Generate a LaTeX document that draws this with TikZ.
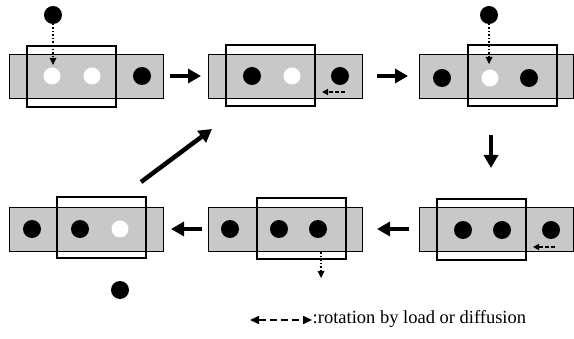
\documentclass[tikz,border=0pt]{standalone}
\usepackage{fontspec}
\setmainfont{Liberation Serif}
\usetikzlibrary{arrows.meta}
\definecolor{stip}{RGB}{200,200,200}
\begin{document}
\begin{tikzpicture}[x=1pt,y=-1pt,
  band/.style={draw=black, line width=0.9pt, fill=stip, minimum width=154pt, minimum height=44pt, inner sep=0pt},
  frame/.style={draw=black, line width=2pt, minimum width=89pt, minimum height=61pt, inner sep=0pt},
  bdot/.style={circle, fill=black, minimum size=18pt, inner sep=0pt},
  wdot/.style={circle, fill=white, minimum size=17pt, inner sep=0pt},
  bigarrow/.style={line width=4.5pt, -{Triangle[length=13pt, width=14pt]}},
  dotarrow/.style={line width=1.6pt, dotted, -{Triangle[length=7pt, width=7pt, line width=0pt]}},
  dasharrow/.style={line width=1.2pt, dash pattern=on 4pt off 2pt, -{Triangle[length=6pt, width=6pt]}},
]
\useasboundingbox (0,0) rectangle (574,339);
% Panel 1
\node[band] (b1) at (86,76) {};
\node[frame] (f1) at (71.5,76.5) {};
\node[wdot] (c11) at (52,76) {};
\node[wdot] (c12) at (92,76) {};
\node[bdot] (c13) at (142,76) {};
\node[bdot] (t1) at (53,15) {};
\coordinate (t1e) at (53,65);
\draw[dotarrow] (t1.south) ++(0,8pt) -- (t1e);
% Panel 2
\node[band] (b2) at (285,76) {};
\node[frame] (f2) at (270,76) {};
\node[bdot] (c21) at (252,76) {};
\node[wdot] (c22) at (292,76) {};
\node[bdot] (c23) at (340,76) {};
\coordinate (d2s) at (345,92);
\coordinate (d2e) at (322,92);
\draw[dasharrow] (d2s) -- (d2e);
% Panel 3
\node[band] (b3) at (496,76) {};
\node[frame] (f3) at (512,75.5) {};
\node[bdot] (c31) at (442,78) {};
\node[wdot] (c32) at (490,78) {};
\node[bdot] (c33) at (529,78) {};
\node[bdot] (t3) at (489,15) {};
\coordinate (t3e) at (489,64);
\draw[dotarrow] (t3.south) ++(0,8pt) -- (t3e);
% Panel 4
\node[band] (b4) at (496,229.5) {};
\node[frame] (f4) at (481.5,229.5) {};
\node[bdot] (c41) at (463,230) {};
\node[bdot] (c42) at (502,230) {};
\node[bdot] (c43) at (551,230) {};
\coordinate (d4s) at (555,247);
\coordinate (d4e) at (533,247);
\draw[dasharrow] (d4s) -- (d4e);
% Panel 5
\node[band] (b5) at (285,229) {};
\node[frame] (f5) at (301,229) {};
\node[bdot] (c51) at (230,229) {};
\node[bdot] (c52) at (279,229) {};
\node[bdot] (c53) at (318,229) {};
\coordinate (d5s) at (321,252);
\coordinate (d5e) at (321,278);
\draw[dotarrow] (d5s) -- (d5e);
% Panel 6
\node[band] (b6) at (86,229) {};
\node[frame] (f6) at (101.5,228) {};
\node[bdot] (c61) at (32,229) {};
\node[bdot] (c62) at (80,229) {};
\node[wdot] (c63) at (120,229) {};
\node[bdot] (u6) at (120,290) {};
% Big arrows
\coordinate (a1s) at (170,76); \coordinate (a1e) at (201,76);
\coordinate (a2s) at (377,76); \coordinate (a2e) at (408,76);
\coordinate (a3s) at (491,135); \coordinate (a3e) at (491,168);
\coordinate (a4s) at (409,229); \coordinate (a4e) at (377,229);
\coordinate (a5s) at (202,229); \coordinate (a5e) at (171,229);
\coordinate (a6s) at (141,182); \coordinate (a6e) at (212,129);
\draw[bigarrow] (a1s) -- (a1e);
\draw[bigarrow] (a2s) -- (a2e);
\draw[bigarrow] (a3s) -- (a3e);
\draw[bigarrow] (a4s) -- (a4e);
\draw[bigarrow] (a5s) -- (a5e);
\draw[bigarrow] (a6s) -- (a6e);
% Legend
\coordinate (ls) at (250,320);
\coordinate (le) at (312,320);
\draw[line width=1.6pt, dash pattern=on 7pt off 4pt, {Triangle[length=9pt, width=8pt]}-{Triangle[length=9pt, width=8pt]}] (ls) -- (le);
\node[anchor=west, inner sep=0pt, font=\fontsize{18.5}{20}\selectfont] (lt) at (312.5,319) {:rotation by load or diffusion};
\end{tikzpicture}
\end{document}
